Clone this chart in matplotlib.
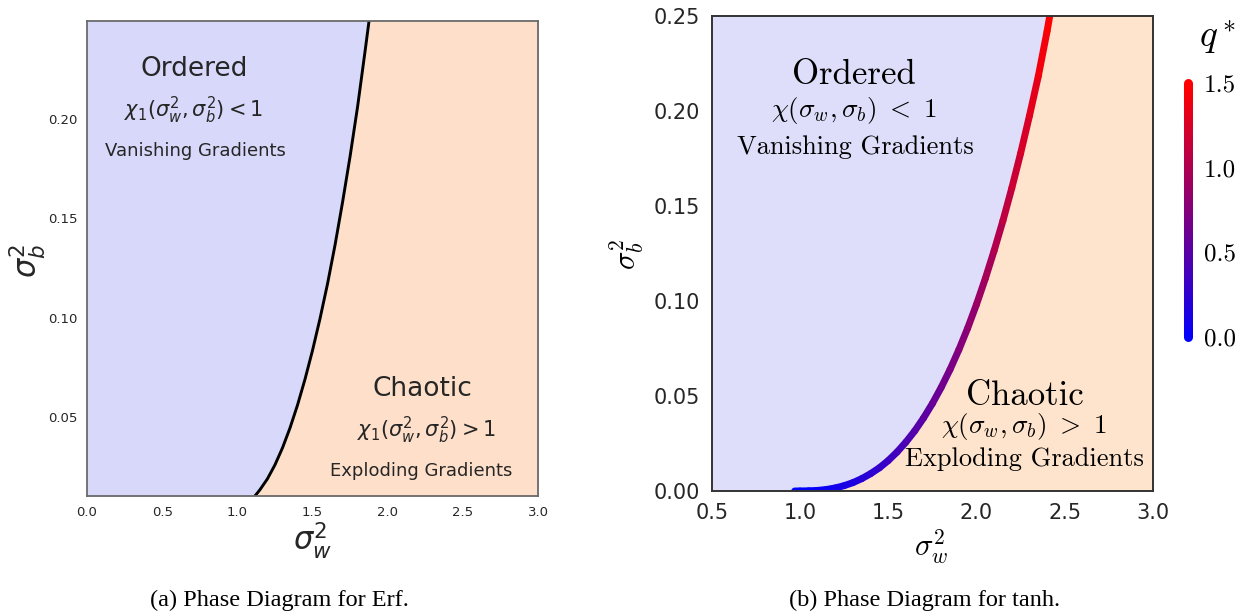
import numpy as np
import matplotlib
matplotlib.use('Agg')
from matplotlib import pyplot as plt
from matplotlib.collections import LineCollection
from matplotlib.colors import LinearSegmentedColormap, Normalize

# critical line for erf (sigma_w^2, sigma_b^2)
erf_sw2 = [1.117, 1.15, 1.20, 1.25, 1.30, 1.35, 1.40, 1.45, 1.50, 1.55, 1.60, 1.65, 1.70, 1.75, 1.80, 1.85, 1.876]
erf_sb2 = [0.0104, 0.0135, 0.0190, 0.0260, 0.0345, 0.0445, 0.0560, 0.0690, 0.0835, 0.0995, 0.1170, 0.1365,
           0.1580, 0.1810, 0.2060, 0.2340, 0.249]

# critical line for tanh, coloured by q*
tanh_sw2 = [0.97, 1.00, 1.05, 1.10, 1.15, 1.20, 1.25, 1.30, 1.35, 1.40, 1.45, 1.50, 1.55, 1.60, 1.65,
            1.70, 1.75, 1.80, 1.85, 1.90, 1.95, 2.00, 2.05, 2.10, 2.15, 2.20, 2.25, 2.30, 2.35, 2.40, 2.415]
tanh_sb2 = [0.0, 0.00001, 0.0001, 0.0003, 0.0008, 0.0016, 0.0028, 0.0044, 0.0065, 0.0091, 0.0122, 0.0160,
            0.0205, 0.0257, 0.0316, 0.0384, 0.0460, 0.0545, 0.0639, 0.0743, 0.0857, 0.0982, 0.1118,
            0.1265, 0.1423, 0.1594, 0.1777, 0.1974, 0.2182, 0.2420, 0.25]
tanh_qstar = [0.0, 0.01, 0.02, 0.045, 0.07, 0.105, 0.14, 0.175, 0.21, 0.25, 0.29, 0.335, 0.38, 0.43, 0.48,
              0.53, 0.58, 0.64, 0.70, 0.76, 0.82, 0.885, 0.95, 1.015, 1.08, 1.15, 1.22, 1.30, 1.38, 1.47, 1.5]

qstar_ticks = [0.0, 0.5, 1.0, 1.5]
left_xticks = [0.0, 0.5, 1.0, 1.5, 2.0, 2.5, 3.0]
left_yticks = [0.05, 0.10, 0.15, 0.20]
right_xticks = [0.5, 1.0, 1.5, 2.0, 2.5, 3.0]
right_yticks = [0.00, 0.05, 0.10, 0.15, 0.20, 0.25]

W, H = 1247, 615
fig = plt.figure(figsize=(W / 100, H / 100), dpi=100)
txt_col = '#262626'

def px_axes(x0, y0, x1, y1):
    return fig.add_axes([x0 / W, 1 - y1 / H, (x1 - x0) / W, (y1 - y0) / H])

# ---------------- (a) erf
ax1 = px_axes(87, 21, 538, 496)
ax1.set_xlim(0, 3.0)
ax1.set_ylim(0.0104, 0.249)
ax1.fill_betweenx(erf_sb2, 0, erf_sw2, color='#D8D8FA', lw=0)
ax1.fill_betweenx(erf_sb2, erf_sw2, 3.0, color='#FEE0CA', lw=0)
ax1.plot(erf_sw2, erf_sb2, color='black', lw=2.1, solid_capstyle='round', solid_joinstyle='round')
ax1.set_xticks(left_xticks)
ax1.set_yticks(left_yticks)
ax1.set_xticklabels(['%.1f' % v for v in left_xticks])
ax1.set_yticklabels(['%.2f' % v for v in left_yticks])
ax1.tick_params(length=0, labelsize=9.5, colors=txt_col, pad=7)
for s in ax1.spines.values():
    s.set_color('#6a6a6a')
    s.set_linewidth(1.3)

ax1.text(0.711, 0.2248, 'Ordered', fontsize=19, color=txt_col, ha='center', va='center')
ax1.text(0.707, 0.204, r'$\chi_1(\sigma_w^2, \sigma_b^2) < 1$', fontsize=15,
         color=txt_col, ha='center', va='center', math_fontfamily='dejavusans')
ax1.text(0.719, 0.1836, 'Vanishing Gradients', fontsize=13, color=txt_col, ha='center', va='center')
ax1.text(2.232, 0.0643, 'Chaotic', fontsize=19, color=txt_col, ha='center', va='center')
ax1.text(2.26, 0.0435, r'$\chi_1(\sigma_w^2, \sigma_b^2) > 1$', fontsize=15,
         color=txt_col, ha='center', va='center', math_fontfamily='dejavusans')
ax1.text(2.224, 0.023, 'Exploding Gradients', fontsize=13, color=txt_col, ha='center', va='center')
ax1.text(0.499, -0.093, r'$\sigma_w^2$', fontsize=22, color=txt_col, ha='center', va='center',
         transform=ax1.transAxes, math_fontfamily='dejavusans')
ax1.text(-0.133, 0.495, r'$\sigma_b^2$', fontsize=22, color=txt_col, ha='center', va='center',
         rotation=90, transform=ax1.transAxes, math_fontfamily='dejavusans')

# ---------------- (b) tanh
ax2 = px_axes(711.7, 16, 1153, 491)
ax2.set_xlim(0.5, 3.0)
ax2.set_ylim(0.0, 0.25)
ax2.fill_betweenx(tanh_sb2, 0.5, tanh_sw2, color='#DEDEFA', lw=0)
ax2.fill_betweenx(tanh_sb2, tanh_sw2, 3.0, color='#FEE4CC', lw=0)

cmap = LinearSegmentedColormap.from_list('blue_red', ['#0000ff', '#ff0000'])
norm = Normalize(0.0, 1.5)
pts = np.column_stack([tanh_sw2, tanh_sb2])
segs = np.stack([pts[:-1], pts[1:]], axis=1)
qmid = 0.5 * (np.array(tanh_qstar[:-1]) + np.array(tanh_qstar[1:]))
lc = LineCollection(segs, cmap=cmap, norm=norm, linewidths=5.0, capstyle='round', joinstyle='round')
lc.set_array(qmid)
ax2.add_collection(lc)

ax2.set_xticks(right_xticks)
ax2.set_yticks(right_yticks)
ax2.set_xticklabels(['%.1f' % v for v in right_xticks])
ax2.set_yticklabels(['%.2f' % v for v in right_yticks])
ax2.tick_params(length=0, labelsize=15, colors=txt_col, pad=8.5)
for s in ax2.spines.values():
    s.set_color('#333333')
    s.set_linewidth(1.4)

cm_kw = dict(color='black', ha='center', va='center', math_fontfamily='cm')
ax2.text(1.303, 0.219, 'Ordered', fontsize=25, family='cmr10', color='black', ha='center', va='center')
ax2.text(1.308, 0.2003, r'$\chi(\sigma_w, \sigma_b)\ <\ 1$', fontsize=19.5, **cm_kw)
ax2.text(1.315, 0.181, 'Vanishing Gradients', fontsize=19, family='cmr10', color='black', ha='center', va='center')
ax2.text(2.272, 0.0497, 'Chaotic', fontsize=25, family='cmr10', color='black', ha='center', va='center')
ax2.text(2.272, 0.0341, r'$\chi(\sigma_w, \sigma_b)\ >\ 1$', fontsize=19.5, **cm_kw)
ax2.text(2.272, 0.0166, 'Exploding Gradients', fontsize=19, family='cmr10', color='black', ha='center', va='center')
ax2.text(0.497, -0.118, r'$\sigma_w^2$', fontsize=22, transform=ax2.transAxes, **cm_kw)
ax2.text(-0.192, 0.497, r'$\sigma_b^2$', fontsize=22, rotation=90, transform=ax2.transAxes, **cm_kw)

# colour bar for q*
cax = px_axes(1183, 75, 1193, 345)
cax.set_xlim(-1, 1)
cax.set_ylim(-0.047, 1.547)
fine = np.linspace(qstar_ticks[0], qstar_ticks[-1], 120)
fpts = np.column_stack([np.zeros_like(fine), fine])
fsegs = np.stack([fpts[:-1], fpts[1:]], axis=1)
clc = LineCollection(fsegs, cmap=cmap, norm=norm, linewidths=6.5, capstyle='round')
clc.set_array(0.5 * (fine[:-1] + fine[1:]))
cax.add_collection(clc)
cax.set_xticks([])
cax.yaxis.tick_right()
cax.set_yticks(qstar_ticks)
cax.set_yticklabels(['%.1f' % v for v in qstar_ticks], family='cmr10')
cax.tick_params(length=0, labelsize=18, colors='black', pad=8)
for s in cax.spines.values():
    s.set_visible(False)
cax.patch.set_alpha(0)
fig.text(1218 / W, 1 - 37 / H, r'$q^*$', fontsize=27, color='black', ha='center', va='center',
         math_fontfamily='cm')

# captions
fig.text(279 / W, 1 - 600 / H, '(a) Phase Diagram for Erf.', fontsize=17.5,
         family='Liberation Serif', ha='center', va='center')
fig.text(925 / W, 1 - 600 / H, '(b) Phase Diagram for tanh.', fontsize=17.5,
         family='Liberation Serif', ha='center', va='center')

fig.savefig('out.png', dpi=100)
